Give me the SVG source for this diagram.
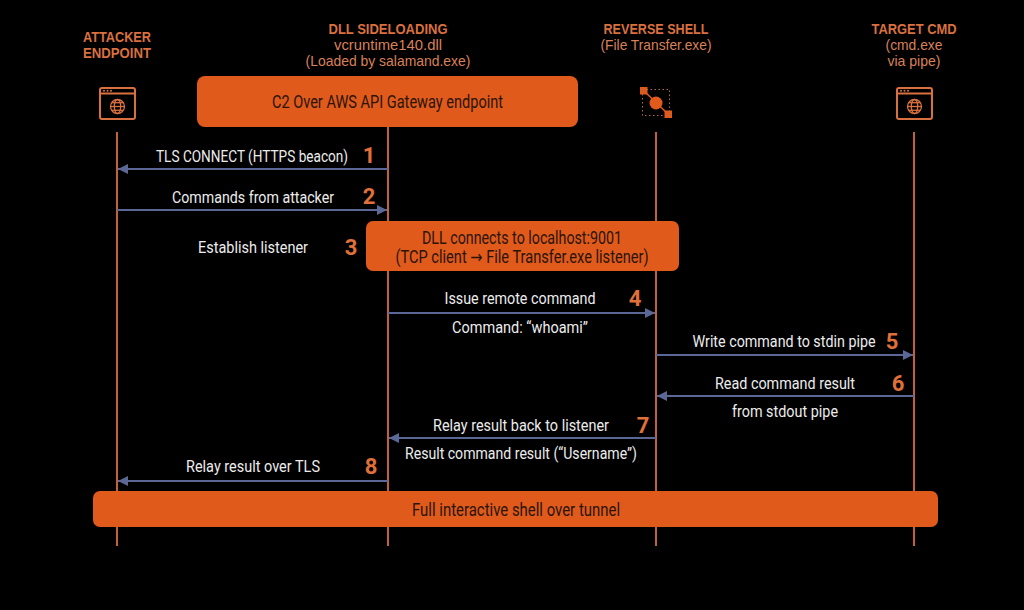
<svg xmlns="http://www.w3.org/2000/svg" width="1024" height="610" viewBox="0 0 1024 610">
<defs>
<style>
text{text-anchor:middle;font-family:Roboto,"Liberation Sans",sans-serif}
.hd{font-family:"Liberation Sans",Arial,sans-serif;font-weight:bold;font-size:14.2px;fill:#d9703f}
.sub{font-family:"Liberation Sans",Arial,sans-serif;font-size:13.8px;fill:#d98058}
.lbl{font-size:17px;fill:#ececec}
.box{fill:#e05a1c}
.btx{font-size:17.5px;fill:#2a1408}
.num{font-weight:bold;font-size:22px;fill:#e0703a}
.life{stroke:#c2603c;stroke-width:2;fill:none}
.msg{stroke:#5b6795;stroke-width:2;fill:none}
.ico{stroke:#d9703f;stroke-width:2;fill:none}
.arr{font-family:"DejaVu Sans",sans-serif}
</style>
<marker id="ah" viewBox="0 0 10 10" refX="10" refY="5" markerWidth="5" markerHeight="5" orient="auto" markerUnits="strokeWidth">
<path d="M0,0 L10,5 L0,10 z" fill="#5b6795"/>
</marker>
</defs>
<rect width="1024" height="610" fill="#000"/>

<g id="lifelines">
<line class="life" x1="117" y1="132" x2="117" y2="546"/>
<line class="life" x1="388" y1="127" x2="388" y2="546"/>
<line class="life" x1="656" y1="132" x2="656" y2="546"/>
<line class="life" x1="914" y1="132" x2="914" y2="546"/>
</g>

<g id="attacker">
<text class="hd" transform="translate(117,42) scale(.85,1)" textLength="80" lengthAdjust="spacingAndGlyphs">ATTACKER</text>
<text class="hd" transform="translate(117,58) scale(.85,1)" textLength="80" lengthAdjust="spacingAndGlyphs">ENDPOINT</text>
<rect class="ico" x="100" y="88" width="35" height="31" rx="2"/>
<line class="ico" x1="100" y1="93.5" x2="135" y2="93.5"/>
<circle cx="104" cy="90.7" r="1" fill="#d9703f"/><circle cx="107.5" cy="90.7" r="1" fill="#d9703f"/><circle cx="111" cy="90.7" r="1" fill="#d9703f"/>
<g stroke="#d9703f" stroke-width="1.3" fill="none">
<circle cx="117.5" cy="106.5" r="7"/>
<ellipse cx="117.5" cy="106.5" rx="3.2" ry="7"/>
<line x1="110.5" y1="106.5" x2="124.5" y2="106.5"/>
<line x1="111.5" y1="102.7" x2="123.5" y2="102.7"/>
<line x1="111.5" y1="110.3" x2="123.5" y2="110.3"/>
</g>
</g>

<g id="dll">
<text class="hd" transform="translate(388,34) scale(.85,1)" textLength="140" lengthAdjust="spacingAndGlyphs">DLL SIDELOADING</text>
<text class="sub" transform="translate(388,50) scale(.85,1)" textLength="127" lengthAdjust="spacingAndGlyphs">vcruntime140.dll</text>
<text class="sub" transform="translate(388,66) scale(.85,1)" textLength="194" lengthAdjust="spacingAndGlyphs">(Loaded by salamand.exe)</text>
</g>

<g id="c2box">
<rect class="box" x="197" y="76" width="381" height="51" rx="8"/>
<text class="btx" transform="translate(387.5,108) scale(.85,1)" textLength="272" lengthAdjust="spacingAndGlyphs">C2 Over AWS API Gateway endpoint</text>
</g>

<g id="reverse">
<text class="hd" transform="translate(656,34) scale(.85,1)" textLength="123.5" lengthAdjust="spacingAndGlyphs">REVERSE SHELL</text>
<text class="sub" transform="translate(656,50) scale(.85,1)" textLength="130.6" lengthAdjust="spacingAndGlyphs">(File Transfer.exe)</text>
<rect x="640" y="87" width="7.5" height="7.5" fill="#e05a1c"/>
<rect x="664.5" y="110.5" width="7.5" height="7.5" fill="#e05a1c"/>
<line x1="644" y1="91" x2="668" y2="114" stroke="#e05a1c" stroke-width="1.5"/>
<circle cx="656" cy="103" r="6.5" fill="#e05a1c"/>
<rect x="642.5" y="89.5" width="27" height="26" fill="none" stroke="#b06848" stroke-width="1" stroke-dasharray="1.5 2.5"/>
</g>

<g id="target">
<text class="hd" transform="translate(914,34) scale(.85,1)" textLength="100" lengthAdjust="spacingAndGlyphs">TARGET CMD</text>
<text class="sub" transform="translate(914,50) scale(.85,1)" textLength="67" lengthAdjust="spacingAndGlyphs">(cmd.exe</text>
<text class="sub" transform="translate(914,65.6) scale(.85,1)" textLength="62.4" lengthAdjust="spacingAndGlyphs">via pipe)</text>
<rect class="ico" x="897" y="88" width="35" height="31" rx="2"/>
<line class="ico" x1="897" y1="93.5" x2="932" y2="93.5"/>
<circle cx="901" cy="90.7" r="1" fill="#d9703f"/><circle cx="904.5" cy="90.7" r="1" fill="#d9703f"/><circle cx="908" cy="90.7" r="1" fill="#d9703f"/>
<g stroke="#d9703f" stroke-width="1.3" fill="none">
<circle cx="914.5" cy="106.5" r="7"/>
<ellipse cx="914.5" cy="106.5" rx="3.2" ry="7"/>
<line x1="907.5" y1="106.5" x2="921.5" y2="106.5"/>
<line x1="908.5" y1="102.7" x2="920.5" y2="102.7"/>
<line x1="908.5" y1="110.3" x2="920.5" y2="110.3"/>
</g>
</g>

<g id="connectors">
<line class="msg" x1="388" y1="169" x2="118" y2="169" marker-end="url(#ah)"/>
<line class="msg" x1="117" y1="210" x2="387" y2="210" marker-end="url(#ah)"/>
<line class="msg" x1="388" y1="313" x2="655" y2="313" marker-end="url(#ah)"/>
<line class="msg" x1="656" y1="355" x2="913" y2="355" marker-end="url(#ah)"/>
<line class="msg" x1="914" y1="396" x2="657" y2="396" marker-end="url(#ah)"/>
<line class="msg" x1="656" y1="438" x2="389" y2="438" marker-end="url(#ah)"/>
<line class="msg" x1="388" y1="481" x2="118" y2="481" marker-end="url(#ah)"/>
</g>

<g id="step1">
<text class="lbl" transform="translate(252,162) scale(.85,1)" textLength="225.9" lengthAdjust="spacingAndGlyphs">TLS CONNECT (HTTPS beacon)</text>
<text class="num" x="369" y="163">1</text>
</g>
<g id="step2">
<text class="lbl" transform="translate(253,203) scale(.85,1)" textLength="190.6" lengthAdjust="spacingAndGlyphs">Commands from attacker</text>
<text class="num" x="369" y="204">2</text>
</g>
<g id="step3">
<text class="lbl" transform="translate(253,253) scale(.85,1)" textLength="129.4" lengthAdjust="spacingAndGlyphs">Establish listener</text>
<text class="num" x="351" y="255">3</text>
</g>
<g id="dllbox">
<rect class="box" x="366" y="221" width="313" height="50" rx="7"/>
<text class="btx" transform="translate(522,244) scale(.85,1)" textLength="235.3" lengthAdjust="spacingAndGlyphs">DLL connects to localhost:9001</text>
<text class="btx" transform="translate(522,263) scale(.85,1)" textLength="297.6" lengthAdjust="spacingAndGlyphs">(TCP client <tspan class="arr">→</tspan> File Transfer.exe listener)</text>
</g>
<g id="step4">
<text class="lbl" transform="translate(520,304) scale(.85,1)" textLength="177.6" lengthAdjust="spacingAndGlyphs">Issue remote command</text>
<text class="num" x="635" y="306">4</text>
<text class="lbl" transform="translate(520,333) scale(.85,1)" textLength="160" lengthAdjust="spacingAndGlyphs">Command: “whoami”</text>
</g>
<g id="step5">
<text class="lbl" transform="translate(784,347) scale(.85,1)" textLength="215.3" lengthAdjust="spacingAndGlyphs">Write command to stdin pipe</text>
<text class="num" x="892" y="349">5</text>
</g>
<g id="step6">
<text class="lbl" transform="translate(785,389) scale(.85,1)" textLength="164.7" lengthAdjust="spacingAndGlyphs">Read command result</text>
<text class="num" x="898" y="391">6</text>
<text class="lbl" transform="translate(785,417) scale(.85,1)" textLength="124.7" lengthAdjust="spacingAndGlyphs">from stdout pipe</text>
</g>
<g id="step7">
<text class="lbl" transform="translate(521,431) scale(.85,1)" textLength="207.1" lengthAdjust="spacingAndGlyphs">Relay result back to listener</text>
<text class="num" x="643" y="433">7</text>
<text class="lbl" transform="translate(521,459) scale(.85,1)" textLength="272.9" lengthAdjust="spacingAndGlyphs">Result command result (“Username”)</text>
</g>
<g id="step8">
<text class="lbl" transform="translate(253,472) scale(.85,1)" textLength="157.6" lengthAdjust="spacingAndGlyphs">Relay result over TLS</text>
<text class="num" x="371" y="474">8</text>
</g>

<g id="shellbar">
<rect class="box" x="93" y="491" width="845" height="36" rx="7"/>
<text class="btx" transform="translate(516,516) scale(.85,1)" textLength="244.7" lengthAdjust="spacingAndGlyphs">Full interactive shell over tunnel</text>
</g>
</svg>
